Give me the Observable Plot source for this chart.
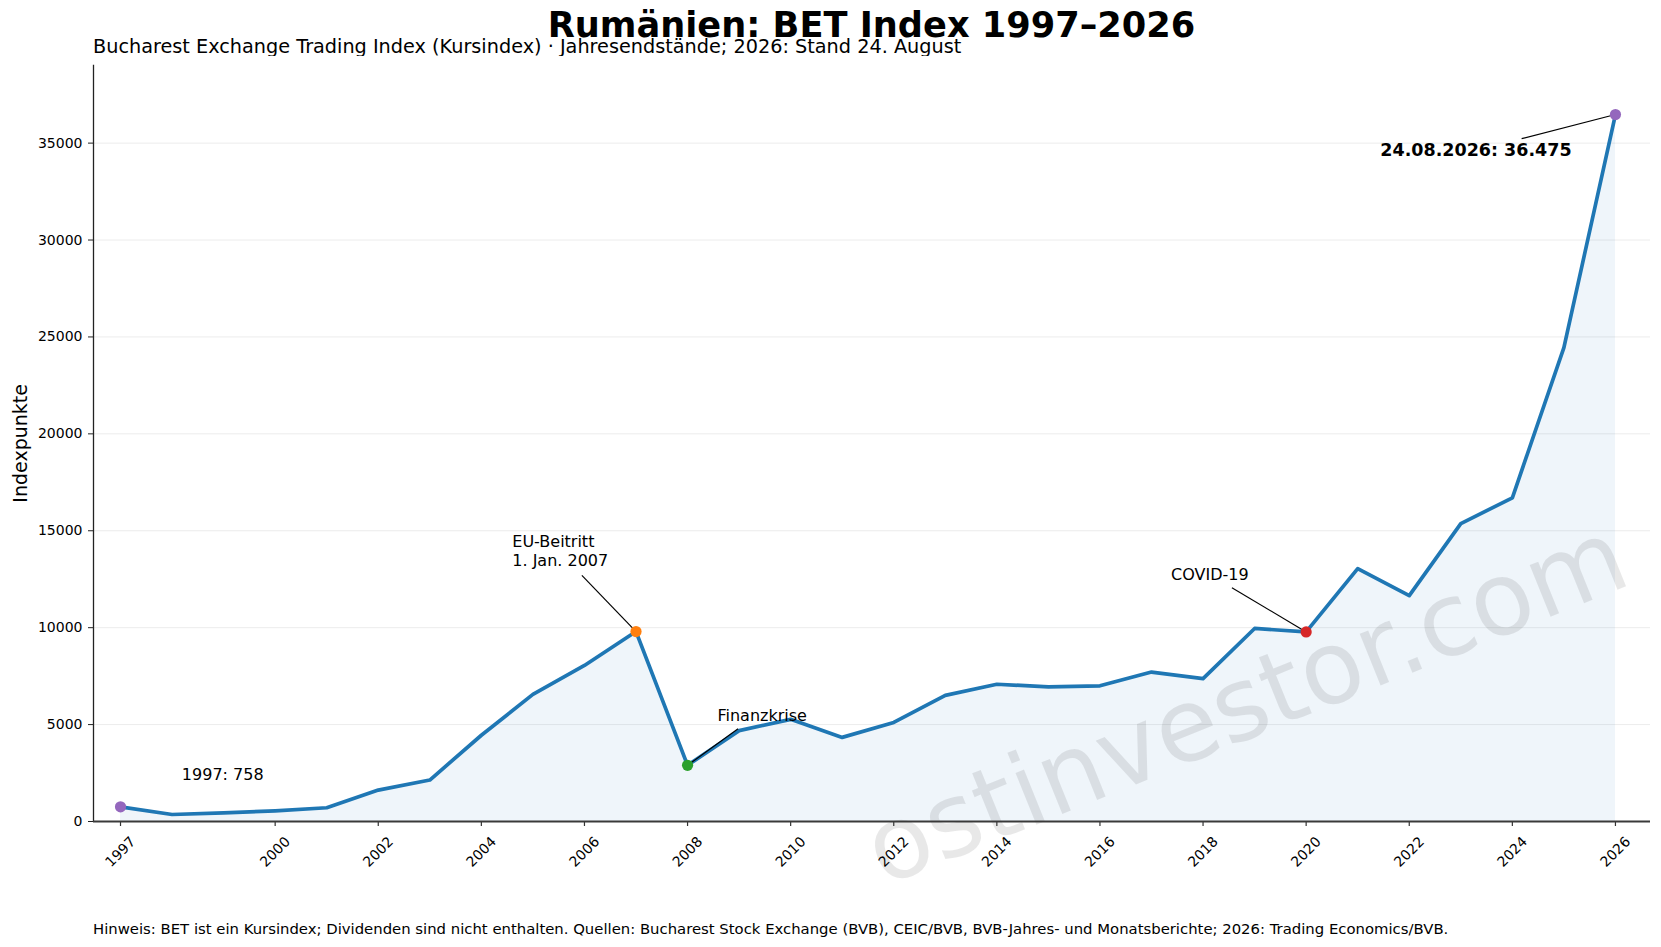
<!DOCTYPE html>
<html>
<head>
<meta charset="utf-8">
<script src="https://cdn.jsdelivr.net/npm/d3@7"></script>
<script src="https://cdn.jsdelivr.net/npm/@observablehq/plot@0.6"></script>
<style>
  html, body { margin: 0; padding: 0; background: #fff; }
  body { width: 1661px; height: 947px; overflow: hidden; font-family: "DejaVu Sans", sans-serif; }
  svg { display: block; }
</style>
</head>
<body>
<div id="header"></div>
<div id="chart"></div>
<div id="footer"></div>
<script>
// ---- data ----
const years = [1997,1998,1999,2000,2001,2002,2003,2004,2005,2006,2007,2008,2009,2010,2011,2012,2013,2014,2015,2016,2017,2018,2019,2020,2021,2022,2023,2024,2025,2026];
const betValues = [758,360,440,550,710,1620,2140,4450,6560,8050,9800,2900,4690,5270,4340,5110,6510,7080,6950,7000,7710,7370,9960,9780,13050,11650,15370,16700,24450,36475];
const xTickYears = [1997,2000,2002,2004,2006,2008,2010,2012,2014,2016,2018,2020,2022,2024,2026];
const yTickValues = [0,5000,10000,15000,20000,25000,30000,35000];
const xDomain = [1996.476, 2026.68];
const yDomain = [0, 39020];

const highlightYears = [1997, 2007, 2008, 2020, 2026];
const highlightColors = ["#9467bd", "#ff7f0e", "#2ca02c", "#d62728", "#9467bd"];

const noteLabels = ["1997: 758", "EU-Beitritt\n1. Jan. 2007", "Finanzkrise", "COVID-19"];
const noteX = [1998.19, 2004.60, 2008.58, 2017.38];
const noteY = [2460, 13990, 5490, 12780];

const lastLabel = "24.08.2026: 36.475";
const lastLabelX = 2025.15;
const lastLabelY = 34620;

const connFromX = [2005.95, 2008.98, 2018.56, 2024.18];
const connFromY = [12700, 4790, 12060, 35230];
const connToYear = [2007, 2008, 2020, 2026];

const titleText = "Rumänien: BET Index 1997–2026";
const subtitleText = "Bucharest Exchange Trading Index (Kursindex) · Jahresendstände; 2026: Stand 24. August";
const captionText = "Hinweis: BET ist ein Kursindex; Dividenden sind nicht enthalten. Quellen: Bucharest Stock Exchange (BVB), CEIC/BVB, BVB-Jahres- und Monatsberichte; 2026: Trading Economics/BVB.";
const yLabelText = "Indexpunkte";
const watermarkText = "ostinvestor.com";

// ---- derived tables ----
const series = years.map((y, i) => ({year: y, value: betValues[i]}));
const valueOf = y => betValues[years.indexOf(y)];
const highlights = highlightYears.map((y, i) => ({year: y, value: valueOf(y), color: highlightColors[i]}));
const notes = noteLabels.map((t, i) => ({text: t, x: noteX[i], y: noteY[i]}));
const connectors = connFromX.map((x, i) => ({x1: x, y1: connFromY[i], x2: connToYear[i], y2: valueOf(connToYear[i])}));

const W = 1661;
const blue = "#1f77b4";

// ---- header ----
const header = d3.select("#header").append("svg").attr("width", W).attr("height", 56);
header.append("text").attr("x", 871.5).attr("y", 36.5).attr("text-anchor", "middle")
  .attr("font-family", "DejaVu Sans").attr("font-weight", "bold").attr("font-size", 35.2).attr("fill", "#000").text(titleText);
header.append("text").attr("x", 93).attr("y", 52.5)
  .attr("font-family", "DejaVu Sans").attr("font-size", 19.25).attr("fill", "#000").text(subtitleText);

// ---- chart ----
const chart = Plot.plot({
  width: W,
  height: 844,
  marginTop: 8.7,
  marginBottom: 79,
  marginLeft: 93,
  marginRight: 11,
  style: {fontFamily: "DejaVu Sans", fontSize: "14px", color: "#000", background: "#fff"},
  x: {domain: xDomain},
  y: {domain: yDomain},
  marks: [
    Plot.gridY(yTickValues.filter(d => d > 0), {stroke: "#000", strokeOpacity: 0.09, strokeWidth: 0.9}),
    Plot.areaY(series, {x: "year", y: "value", fill: blue, fillOpacity: 0.07}),
    Plot.text([watermarkText], {frameAnchor: "top-left", dx: 1246 - 93, dy: 648 - 8.7, rotate: -22, fontSize: 102, fill: "#000", fillOpacity: 0.09, textAnchor: "middle", lineAnchor: "middle"}),
    Plot.line(series, {x: "year", y: "value", stroke: blue, strokeWidth: 3.7, strokeLinejoin: "round"}),
    Plot.link(connectors, {x1: "x1", y1: "y1", x2: "x2", y2: "y2", stroke: "#000", strokeWidth: 1.2}),
    Plot.dot(highlights, {x: "year", y: "value", fill: "color", r: 5.6}),
    Plot.text(notes, {x: "x", y: "y", text: "text", textAnchor: "start", lineAnchor: "middle", fontSize: 16, lineHeight: 1.21, fill: "#000"}),
    Plot.text([lastLabel], {x: [lastLabelX], y: [lastLabelY], text: d => d, textAnchor: "end", fontSize: 17.5, fontWeight: "bold", fill: "#000"}),
    Plot.axisY({ticks: yTickValues, tickSize: 5, tickPadding: 6, tickFormat: d => String(d), fontSize: 14, label: null, stroke: "#222"}),
    Plot.ruleX([xDomain[0]], {stroke: "#222", strokeWidth: 1.3}),
    Plot.axisX({ticks: xTickYears, tickSize: 5, fill: "none", label: null, stroke: "#333", strokeWidth: 1.2}),
    Plot.ruleY([yDomain[0]], {stroke: "#3a3a3a", strokeWidth: 2.2}),
    Plot.text(xTickYears, {x: d => d, frameAnchor: "bottom", dy: 30.5, rotate: -45, text: d => String(d), textAnchor: "middle", lineAnchor: "middle", fontSize: 14, fill: "#000"}),
    Plot.text([yLabelText], {frameAnchor: "left", dx: -73, rotate: -90, text: d => d, fontSize: 19, textAnchor: "middle", lineAnchor: "middle", fill: "#000"})
  ]
});
document.getElementById("chart").appendChild(chart);

// ---- footer ----
const footer = d3.select("#footer").append("svg").attr("width", W).attr("height", 47);
footer.append("text").attr("x", 93).attr("y", 34)
  .attr("font-family", "DejaVu Sans").attr("font-size", 14.85).attr("fill", "#000").text(captionText);
</script>
</body>
</html>
